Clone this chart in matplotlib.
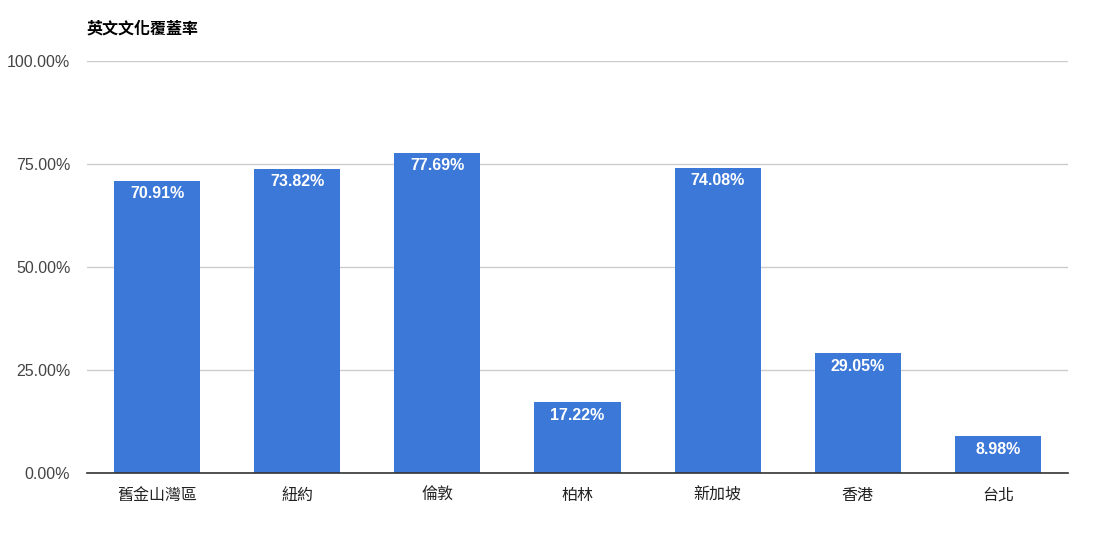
import matplotlib
matplotlib.use("Agg")
import matplotlib.pyplot as plt
from matplotlib.ticker import FuncFormatter
import matplotlib.transforms as mtransforms

categories = ["舊金山灣區", "紐約", "倫敦", "柏林", "新加坡", "香港", "台北"]
values = [70.91, 73.82, 77.69, 17.22, 74.08, 29.05, 8.98]
yticks = [0, 25, 50, 75, 100]
title = "英文文化覆蓋率"

plt.rcParams['font.family'] = ['Liberation Sans', 'Noto Sans CJK TC', 'DejaVu Sans']

fig = plt.figure(figsize=(10.94, 5.38), dpi=100)
ax = fig.add_axes([87/1094, 1-473/538, (1068-87)/1094, (473-61)/538])

x = list(range(len(categories)))
bars = ax.bar(x, values, width=0.615, color="#3c78d8", zorder=3)
ax.set_xlim(-0.5, len(categories) - 0.5)
ax.set_ylim(0, 100)
ax.set_yticks(yticks)
ax.yaxis.set_major_formatter(FuncFormatter(lambda v, p: f"{v:.2f}%"))
ax.set_xticks(x)
ax.set_xticklabels([])
ax.grid(axis='y', color="#cccccc", linewidth=1, zorder=0)
for s in ['top', 'right', 'left']:
    ax.spines[s].set_visible(False)
ax.spines['bottom'].set_color("#333333")
ax.spines['bottom'].set_linewidth(1.2)
ax.spines['bottom'].set_zorder(4)
ax.tick_params(axis='y', length=0, pad=12, labelsize=11.5, labelcolor="#444444")
ax.tick_params(axis='x', length=0)

# category labels, baseline-aligned so glyph heights do not shift them
trans = mtransforms.offset_copy(ax.get_xaxis_transform(), fig=fig, x=0, y=-27, units='dots')
for xi, c in zip(x, categories):
    ax.text(xi, 0, c, transform=trans, ha='center', va='baseline', fontsize=11.5,
            color="#222222", family=['Noto Sans CJK TC', 'DejaVu Sans'])

for rect, v in zip(bars, values):
    ax.annotate(f"{v:.2f}%", xy=(rect.get_x() + rect.get_width()/2, v),
                xytext=(0, -4), textcoords='offset points',
                ha='center', va='top', color='white', fontsize=11.5,
                fontweight='bold', zorder=5)

fig.text(87/1094, 1-28/538, title, ha='left', va='center', fontsize=11.5,
         fontweight='bold', family=['Noto Sans CJK TC', 'DejaVu Sans'], color="#000000")

fig.savefig("out.png", dpi=100)
